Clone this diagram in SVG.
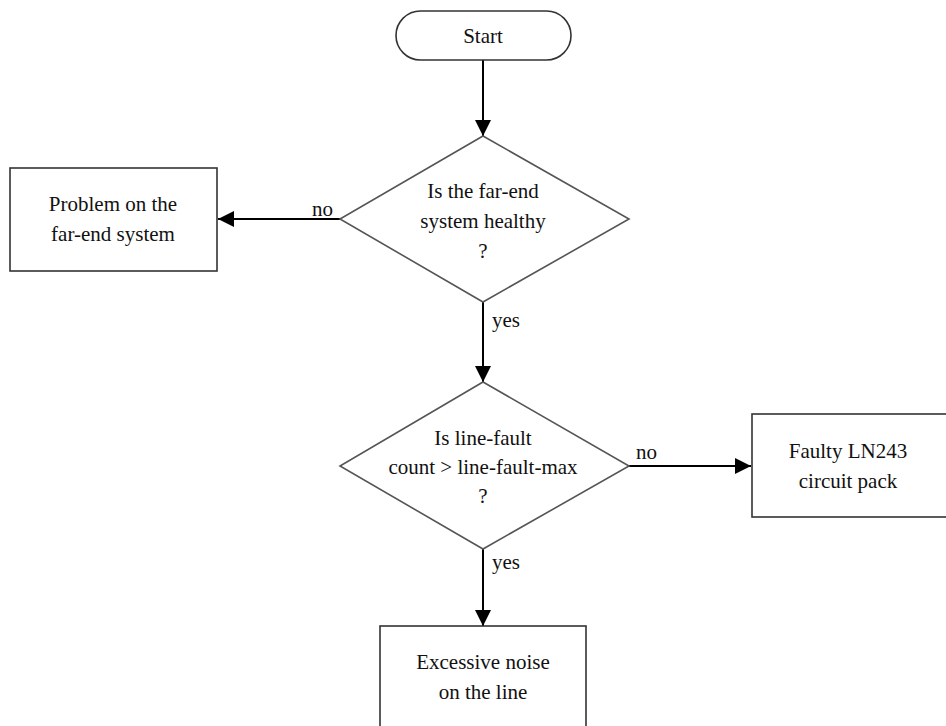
<svg xmlns="http://www.w3.org/2000/svg" width="946" height="726" viewBox="0 0 946 726">
<defs>
<marker id="arr" markerUnits="userSpaceOnUse" markerWidth="18" markerHeight="18" refX="16" refY="8" orient="auto">
<path d="M0,0 L16,8 L0,16 Z" fill="#000"/>
</marker>
<style>
.shape{fill:#fff;stroke:#333;stroke-width:1.6}
.dia{fill:#fff;stroke:#555;stroke-width:1.6}
.t{font-family:"Liberation Serif","Times New Roman",serif;font-size:21px;fill:#111;text-anchor:middle}
.lbl{font-family:"Liberation Serif","Times New Roman",serif;font-size:21px;fill:#111}
.edge{stroke:#000;stroke-width:2;fill:none;marker-end:url(#arr)}
</style>
</defs>
<rect width="946" height="726" fill="#fff"/>
<g id="connectors">
<line class="edge" x1="483" y1="60" x2="483" y2="136"/>
<line class="edge" x1="340" y1="219" x2="218" y2="219"/>
<line class="edge" x1="483" y1="302" x2="483" y2="382"/>
<line class="edge" x1="629" y1="466" x2="751" y2="466"/>
<line class="edge" x1="483" y1="549" x2="483" y2="626"/>
<text class="lbl" x="312" y="216">no</text>
<text class="lbl" x="492" y="327">yes</text>
<text class="lbl" x="636" y="459">no</text>
<text class="lbl" x="492" y="569">yes</text>
</g>
<g id="start">
<rect class="shape" x="396" y="11" width="175" height="49" rx="24.5" ry="24.5"/>
<text class="t" x="483" y="43">Start</text>
</g>
<g id="decision1">
<polygon class="dia" points="483,136 629,219 483,302 340,219"/>
<text class="t" x="483" y="198">Is the far-end</text>
<text class="t" x="483" y="228">system healthy</text>
<text class="t" x="483" y="258">?</text>
</g>
<g id="farend">
<rect class="shape" x="10" y="168" width="207" height="103"/>
<text class="t" x="113" y="211">Problem on the</text>
<text class="t" x="113" y="241">far-end system</text>
</g>
<g id="decision2">
<polygon class="dia" points="483,382 629,466 483,549 340,466"/>
<text class="t" x="483" y="445">Is line-fault</text>
<text class="t" x="483" y="474">count &gt; line-fault-max</text>
<text class="t" x="483" y="503">?</text>
</g>
<g id="faulty">
<rect class="shape" x="752" y="414" width="220" height="103"/>
<text class="t" x="848" y="458">Faulty LN243</text>
<text class="t" x="848" y="488">circuit pack</text>
</g>
<g id="noise">
<rect class="shape" x="380" y="626" width="206" height="120"/>
<text class="t" x="483" y="669">Excessive noise</text>
<text class="t" x="483" y="699">on the line</text>
</g>
</svg>
